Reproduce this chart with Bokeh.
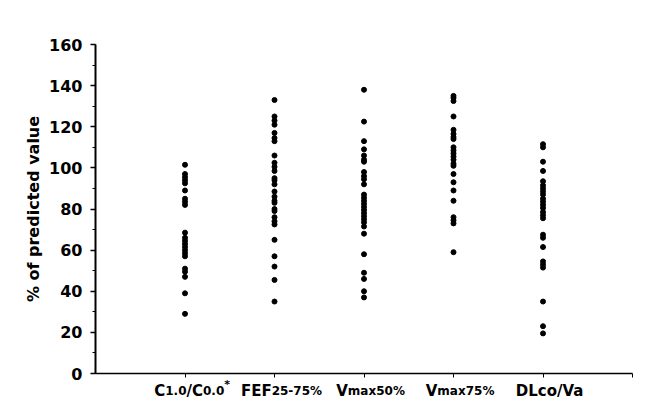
from bokeh.core.properties import value
from bokeh.embed import file_html
from bokeh.models import ColumnDataSource, FixedTicker, Range1d, SingleIntervalTicker
from bokeh.plotting import figure
from bokeh.resources import INLINE

# values (% of predicted value)
c_ratio = [101.5, 97, 95.5, 94, 92.5, 89, 85, 83.5, 82, 68.5, 66, 64.5, 63, 61.5,
           60, 58.5, 57, 51, 49.5, 47, 39, 29]
fef = [133, 125, 123, 121, 117, 114.5, 113, 106, 102.5, 100.5, 98.5, 95, 94, 92,
       88.5, 86, 84, 83, 80, 79, 76, 74, 72.5, 65, 57, 52, 45.5, 35]
vmax50 = [138, 122.5, 113, 109, 106, 104, 103, 98, 96, 94.5, 92, 87, 85.5, 84,
          82.5, 81, 79.5, 78, 76.5, 75, 73.5, 71.5, 68, 58, 49, 46, 40, 37]
vmax75 = [135, 134, 132.5, 125, 118.5, 116.5, 115, 114, 110, 108.5, 107, 105.5,
          104, 102, 101, 97, 93, 89, 84, 76, 74.5, 73, 59]
dlco = [111.5, 110, 103, 98.5, 93.5, 91.5, 90, 88.5, 87, 85, 83.5, 82, 80.5, 78.5,
        77, 75.5, 67.5, 66, 61.5, 54.5, 53, 51.5, 35, 23, 19.5]

series = [c_ratio, fef, vmax50, vmax75, dlco]

# category labels, split into (text, kind) pieces for the sub/superscripts
cat_labels = [
    [("C", "big"), ("1.0", "sub"), ("/C", "big"), ("0.0", "sub"), ("*", "sup")],
    [("FEF", "big"), ("25-75%", "sub")],
    [("V", "big"), ("max50%", "sub")],
    [("V", "big"), ("max75%", "sub")],
    [("DLco/Va", "big")],
]

y_ticks_every = 20

FONT = "DejaVu Sans"

xs, ys = [], []
for i, vals in enumerate(series, start=1):
    xs += [i] * len(vals)
    ys += vals
source = ColumnDataSource(data=dict(x=xs, y=ys))

# rough advance widths of DejaVu Sans Bold (em)
W = {"C": .734, "D": .830, "E": .683, "F": .683, "L": .637, "V": .774,
     "a": .675, "c": .593, "m": 1.042, "o": .687, "x": .712,
     "0": .696, "1": .696, "2": .696, "5": .696, "7": .696,
     ".": .380, "/": .365, "-": .415, "%": 1.002, "*": .500}
SIZES = {"big": 15, "sub": 12, "sup": 11}
BASE = {"big": 17, "sub": 17, "sup": 11}

lx, ltext, lxo, lyo, lsize = [], [], [], [], []
for i, parts in enumerate(cat_labels, start=1):
    widths = [sum(W.get(ch, .7) for ch in t) * SIZES[k] for t, k in parts]
    off = 7 - sum(widths) / 2
    for (t, k), w in zip(parts, widths):
        lx.append(i)
        ltext.append(t)
        lxo.append(off)
        lyo.append(BASE[k])
        lsize.append("%dpx" % SIZES[k])
        off += w
labels = ColumnDataSource(data=dict(x=lx, y=[0] * len(lx), text=ltext,
                                    xo=lxo, yo=lyo, size=lsize))

p = figure(width=660, height=400, output_backend="svg", toolbar_location=None,
           x_range=Range1d(0, 6), y_range=Range1d(0, 160),
           min_border_left=95, min_border_right=28, min_border_top=44,
           min_border_bottom=27)
p.outline_line_color = None
p.grid.visible = False

p.scatter("x", "y", source=source, size=5, color="black")

p.text(x="x", y="y", text="text", x_offset="xo", y_offset="yo",
       text_font_size="size", source=labels, text_font=value(FONT),
       text_font_style="bold", text_color="black", text_align="left",
       text_baseline="alphabetic", level="overlay")

yax = p.yaxis[0]
yax.ticker = SingleIntervalTicker(interval=y_ticks_every, num_minor_ticks=2)
yax.axis_label = "% of predicted value"
yax.axis_label_text_font = FONT
yax.axis_label_text_font_style = "bold"
yax.axis_label_text_font_size = "16px"
yax.axis_label_text_color = "black"
yax.axis_label_standoff = 3
yax.major_label_text_font = FONT
yax.major_label_text_font_style = "bold"
yax.major_label_text_font_size = "16px"
yax.major_label_text_color = "black"
yax.major_label_standoff = 8
yax.axis_line_width = 2
yax.major_tick_line_width = 1.5
yax.minor_tick_line_width = 1
yax.major_tick_out = 5
yax.major_tick_in = 0
yax.minor_tick_out = 3
yax.minor_tick_in = 0

xax = p.xaxis[0]
xax.ticker = FixedTicker(ticks=[1, 2, 3, 4, 5, 6])
xax.major_label_overrides = {t: "" for t in [1, 2, 3, 4, 5, 6]}
xax.axis_line_width = 1.5
xax.major_tick_out = 4
xax.major_tick_in = 0
xax.major_tick_line_width = 1
xax.minor_tick_line_color = None

open("out.html", "w").write(file_html(p, INLINE))
